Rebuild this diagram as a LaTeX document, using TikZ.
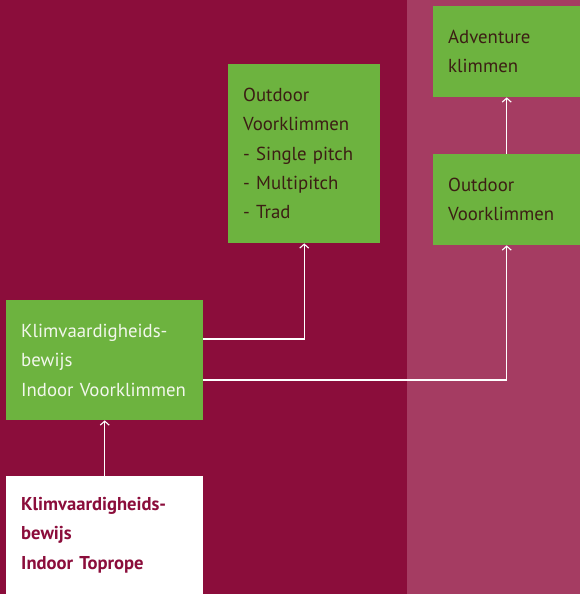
\documentclass[tikz,border=0pt]{standalone}
\usepackage{fontspec}
\setmainfont{PT Sans}
\usetikzlibrary{arrows.meta}
\definecolor{crimson}{HTML}{8B0D3B}
\definecolor{panel}{HTML}{A53C62}
\definecolor{leaf}{HTML}{6DB33F}
\definecolor{darktext}{HTML}{3C1E14}
\definecolor{lighttext}{HTML}{F2F7EC}
\tikzset{
  box/.style={rectangle, anchor=north west, inner xsep=15pt, inner ysep=0pt,
    align=left, font=\fontsize{18.8}{29.3}\selectfont},
  greenbox/.style={box, fill=leaf, text=darktext},
  conn/.style={draw=white, line width=1.1pt, -{Straight Barb[length=4pt,width=9pt]}}
}
\begin{document}
\begin{tikzpicture}[x=1pt,y=-1pt]
\fill[crimson] (0,0) rectangle (580,594);
\fill[panel] (407,0) rectangle (580,594);
\useasboundingbox (0,0) rectangle (580,594);
\node[greenbox, text=lighttext, minimum width=197pt, minimum height=120pt, text width=167pt] (kvi) at (6,300)
  {Klimvaardigheids-\\bewijs\\Indoor Voorklimmen};
\node[box, fill=white, text=crimson, font=\fontsize{18.6}{29.3}\selectfont\bfseries, minimum width=197pt, minimum height=118pt, text width=167pt] (kvt) at (6,476)
  {Klimvaardigheids-\\bewijs\\Indoor Toprope};
\node[greenbox, minimum width=152pt, minimum height=179pt, text width=122pt] (ovm) at (228,64)
  {Outdoor\\Voorklimmen\\- Single pitch\\- Multipitch\\- Trad};
\node[greenbox, minimum width=147pt, minimum height=91pt, text width=117pt] (adv) at (433,6)
  {Adventure\\klimmen};
\node[greenbox, minimum width=147pt, minimum height=91pt, text width=117pt] (ovr) at (433,154)
  {Outdoor\\Voorklimmen};
\draw[conn] (kvt.north) -- (kvi.south);
\draw[conn] ([yshift=-39pt]kvi.north east) -| (ovm.south);
\draw[conn] ([yshift=-80pt]kvi.north east) -| (ovr.south);
\draw[conn] (ovr.north) -- (adv.south);
\end{tikzpicture}
\end{document}
